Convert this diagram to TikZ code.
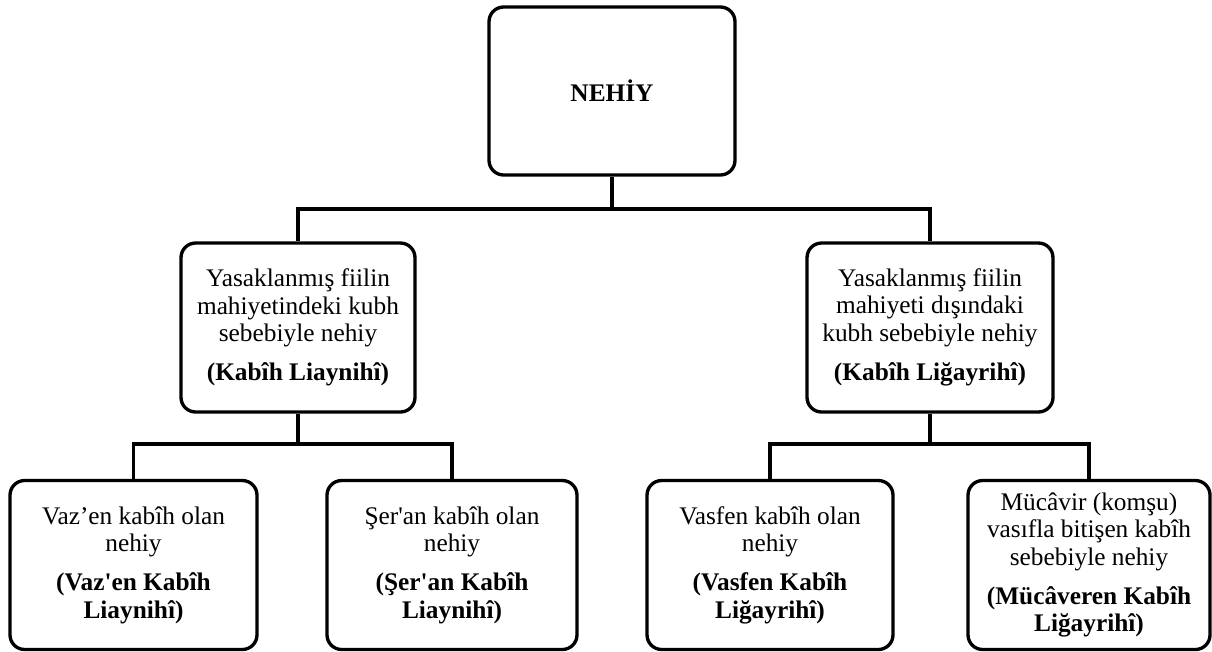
\documentclass[tikz,border=0pt]{standalone}
\usepackage{fontspec}
\setmainfont{Liberation Serif}
\begin{document}
\begin{tikzpicture}[x=0.75pt,y=-0.75pt,
  box/.style={draw=black,line width=2.5pt,rounded corners=11pt,fill=white,
    align=center,inner sep=0pt,font=\fontsize{19}{20.5}\selectfont},
  conn/.style={draw=black,line width=2.5pt,line join=miter}]
\useasboundingbox (0,0) rectangle (1212,651);
\node[box,minimum width=184.5pt,minimum height=126pt] (top) at (612,91) {\textbf{NEHİY}};
\node[box,minimum width=175.5pt,minimum height=126.75pt] (ml) at (298,327.5)
  {Yasaklanmış fiilin\\mahiyetindeki kubh\\sebebiyle nehiy\\[9pt]\textbf{(Kabîh Liaynihî)}};
\node[box,minimum width=184.5pt,minimum height=126.75pt] (mr) at (930,327.5)
  {Yasaklanmış fiilin\\mahiyeti dışındaki\\kubh sebebiyle nehiy\\[9pt]\textbf{(Kabîh Liğayrihî)}};
\node[box,minimum width=185.25pt,minimum height=126.75pt] (b1) at (133.5,565)
  {Vaz’en kabîh olan\\nehiy\\[9pt]\textbf{(Vaz\textquotesingle en Kabîh}\\\textbf{Liaynihî)}};
\node[box,minimum width=187.5pt,minimum height=126.75pt] (b2) at (452,565)
  {Şer\textquotesingle an kabîh olan\\nehiy\\[9pt]\textbf{(Şer\textquotesingle an Kabîh}\\\textbf{Liaynihî)}};
\node[box,minimum width=184.5pt,minimum height=126.75pt] (b3) at (770,565)
  {Vasfen kabîh olan\\nehiy\\[9pt]\textbf{(Vasfen Kabîh}\\\textbf{Liğayrihî)}};
\node[box,minimum width=181.5pt,minimum height=126.75pt] (b4) at (1089,565)
  {Mücâvir (komşu)\\vasıfla bitişen kabîh\\sebebiyle nehiy\\[9pt]\textbf{(Mücâveren Kabîh}\\\textbf{Liğayrihî)}};
\coordinate (j1) at (612,209);
\coordinate (j2) at (298,444);
\coordinate (j3) at (930,444);
\draw[conn] (top.south) -- (j1);
\draw[conn] (ml.north) |- (j1) -| (mr.north);
\draw[conn] (ml.south) -- (j2);
\draw[conn] (b1.north) |- (j2) -| (b2.north);
\draw[conn] (mr.south) -- (j3);
\draw[conn] (b3.north) |- (j3) -| (b4.north);
\end{tikzpicture}
\end{document}
